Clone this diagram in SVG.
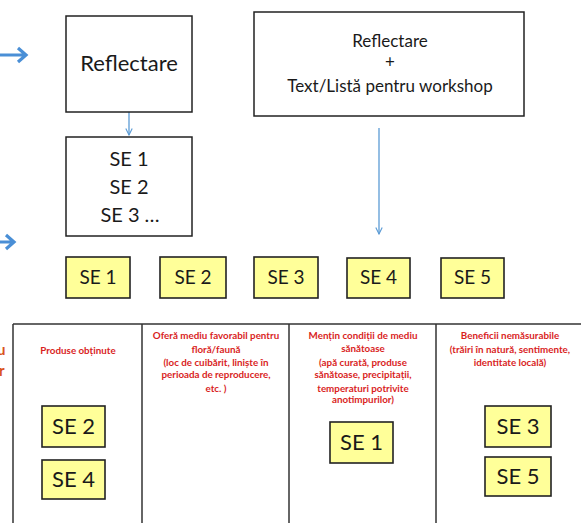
<svg xmlns="http://www.w3.org/2000/svg" width="581" height="523" viewBox="0 0 581 523">
<defs>
<marker id="ah" viewBox="0 0 10 10" refX="9" refY="5" markerWidth="8" markerHeight="8" markerUnits="userSpaceOnUse" orient="auto">
<path d="M1,1 L9,5 L1,9" fill="none" stroke="#5b9bd5" stroke-width="1.4"/>
</marker>
</defs>
<style>
.box{fill:#fff;stroke:#222;stroke-width:1.5}
.se{fill:#ffff99;stroke:#222;stroke-width:1.6}
.t{font-family:Lato,"Liberation Sans",sans-serif;fill:#1a1a1a;text-anchor:middle}
.red{font-family:Lato,"Liberation Sans",sans-serif;fill:#d91e1e;font-size:9.8px;font-weight:bold;text-anchor:middle}
.grid{stroke:#333;stroke-width:1.5;fill:none}
.thin{stroke:#5b9bd5;stroke-width:1.3;fill:none}
.bold{stroke:#4a8fd6;stroke-width:3.2;fill:none;stroke-linejoin:miter}
</style>
<g id="connectors">
<line class="thin" x1="129" y1="112" x2="129" y2="135" marker-end="url(#ah)"/>
<line class="thin" x1="379" y1="128" x2="379" y2="234" marker-end="url(#ah)"/>
<path class="bold" d="M0,55 L25,55 M18,48 L26,55 L18,62"/>
<path class="bold" d="M0,242 L14,242 M6,235 L14,242 L6,249"/>
</g>
<g id="table">
<line class="grid" x1="13" y1="324" x2="581" y2="324"/>
<line class="grid" x1="13" y1="324" x2="13" y2="523"/>
<line class="grid" x1="142" y1="324" x2="142" y2="523"/>
<line class="grid" x1="289" y1="324" x2="289" y2="523"/>
<line class="grid" x1="436" y1="324" x2="436" y2="523"/>
</g>
<g id="left-fragments">
<text x="-3" y="355" font-family="Lato,'Liberation Sans',sans-serif" font-size="15" font-weight="bold" fill="#d9541e">u</text>
<text x="-1" y="376" font-family="Lato,'Liberation Sans',sans-serif" font-size="15" font-weight="bold" fill="#d9541e">r</text>
</g>
<g id="reflectare">
<rect class="box" x="66" y="16" width="126" height="96"/>
<text class="t" x="129" y="71" font-size="22">Reflectare</text>
</g>
<g id="se-list">
<rect class="box" x="66" y="137" width="126" height="99"/>
<text class="t" x="129" y="166" font-size="20">SE 1</text>
<text class="t" x="129" y="194" font-size="20">SE 2</text>
<text class="t" x="130" y="222" font-size="20">SE 3 …</text>
</g>
<g id="reflectare-text">
<rect class="box" x="254" y="12" width="270" height="104"/>
<text class="t" x="390" y="47" font-size="17">Reflectare</text>
<text class="t" x="390" y="68" font-size="17">+</text>
<text class="t" x="390" y="92" font-size="17">Text/Listă pentru workshop</text>
</g>
<g id="row-se1"><rect class="se" x="66" y="257" width="64" height="41"/><text class="t" x="98" y="284" font-size="19">SE 1</text></g>
<g id="row-se2"><rect class="se" x="160" y="257" width="66" height="41"/><text class="t" x="193" y="284" font-size="19">SE 2</text></g>
<g id="row-se3"><rect class="se" x="254" y="257" width="64" height="41"/><text class="t" x="286" y="284" font-size="19">SE 3</text></g>
<g id="row-se4"><rect class="se" x="347" y="258" width="63" height="40"/><text class="t" x="378.5" y="284" font-size="19">SE 4</text></g>
<g id="row-se5"><rect class="se" x="441" y="258" width="63" height="40"/><text class="t" x="472.5" y="284" font-size="19">SE 5</text></g>
<g id="col1">
<text class="red" x="78" y="354">Produse obținute</text>
</g>
<g id="col2">
<text class="red" x="216" y="339">Oferă mediu favorabil pentru</text>
<text class="red" x="216" y="353">floră/faună</text>
<text class="red" x="216" y="366">(loc de cuibărit, liniște în</text>
<text class="red" x="216" y="378">perioada de reproducere,</text>
<text class="red" x="216" y="392">etc. )</text>
</g>
<g id="col3">
<text class="red" x="363" y="339">Mențin condiții de mediu</text>
<text class="red" x="363" y="352">sănătoase</text>
<text class="red" x="363" y="366">(apă curată, produse</text>
<text class="red" x="363" y="378">sănătoase, precipitații,</text>
<text class="red" x="363" y="392">temperaturi potrivite</text>
<text class="red" x="363" y="403">anotimpurilor)</text>
</g>
<g id="col4">
<text class="red" x="510" y="339">Beneficii nemăsurabile</text>
<text class="red" x="510" y="353">(trăiri în natură, sentimente,</text>
<text class="red" x="510" y="366">identitate locală)</text>
</g>
<g id="col1-se2"><rect class="se" x="42" y="406" width="63" height="41"/><text class="t" x="73.5" y="434" font-size="22">SE 2</text></g>
<g id="col1-se4"><rect class="se" x="42" y="460" width="63" height="39"/><text class="t" x="73.5" y="487" font-size="22">SE 4</text></g>
<g id="col3-se1"><rect class="se" x="330" y="422" width="63" height="41"/><text class="t" x="361.5" y="450" font-size="22">SE 1</text></g>
<g id="col4-se3"><rect class="se" x="485" y="406" width="66" height="41"/><text class="t" x="518" y="434" font-size="22">SE 3</text></g>
<g id="col4-se5"><rect class="se" x="485" y="457" width="66" height="39"/><text class="t" x="518" y="484" font-size="22">SE 5</text></g>
</svg>
